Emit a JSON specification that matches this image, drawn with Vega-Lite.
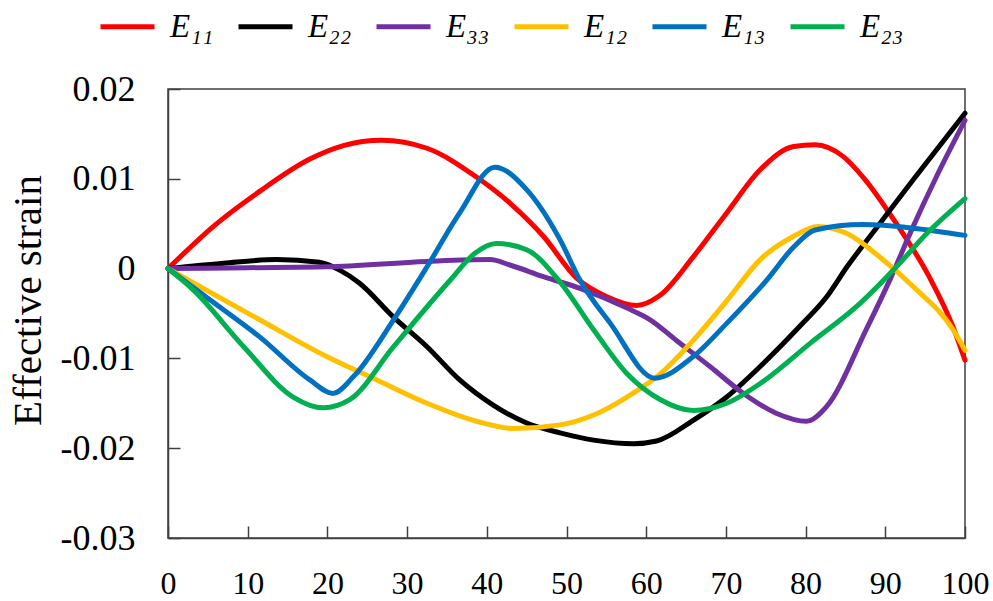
{
  "$schema": "https://vega.github.io/schema/vega-lite/v6.json",
  "width": 797,
  "height": 449,
  "autosize": {"type": "none"},
  "padding": {"left": 168, "top": 89, "right": 28, "bottom": 63},
  "background": "white",
  "config": {
    "view": {"stroke": "#404040", "strokeWidth": 1.5},
    "axis": {
      "labelFont": "Liberation Serif",
      "labelFontSize": 33,
      "labelColor": "#000000",
      "titleFont": "Liberation Serif",
      "titleFontSize": 41,
      "titleFontWeight": "normal",
      "titleColor": "#000000",
      "domainColor": "#404040",
      "domainWidth": 1.5,
      "tickColor": "#404040",
      "tickWidth": 1.5,
      "tickSize": -12,
      "grid": false
    }
  },
  "data": {
    "values": [
      {"s": "E₁₁", "t": 0, "v": 0},
      {"s": "E₁₁", "t": 2.6, "v": 0.0022},
      {"s": "E₁₁", "t": 5.3, "v": 0.0044},
      {"s": "E₁₁", "t": 11.5, "v": 0.0086},
      {"s": "E₁₁", "t": 17.8, "v": 0.0122},
      {"s": "E₁₁", "t": 22, "v": 0.0137},
      {"s": "E₁₁", "t": 26.8, "v": 0.0143},
      {"s": "E₁₁", "t": 32.5, "v": 0.0134},
      {"s": "E₁₁", "t": 38.7, "v": 0.0102},
      {"s": "E₁₁", "t": 42.9, "v": 0.0073},
      {"s": "E₁₁", "t": 47.1, "v": 0.0036},
      {"s": "E₁₁", "t": 51.2, "v": -0.001},
      {"s": "E₁₁", "t": 55, "v": -0.0031},
      {"s": "E₁₁", "t": 58.8, "v": -0.0041},
      {"s": "E₁₁", "t": 61.7, "v": -0.003},
      {"s": "E₁₁", "t": 65.9, "v": 0.0013},
      {"s": "E₁₁", "t": 70.1, "v": 0.0062},
      {"s": "E₁₁", "t": 74.3, "v": 0.011},
      {"s": "E₁₁", "t": 78.5, "v": 0.0136},
      {"s": "E₁₁", "t": 81.2, "v": 0.0138},
      {"s": "E₁₁", "t": 84.7, "v": 0.0125},
      {"s": "E₁₁", "t": 87.2, "v": 0.0102},
      {"s": "E₁₁", "t": 91.4, "v": 0.005},
      {"s": "E₁₁", "t": 95.5, "v": -0.0009},
      {"s": "E₁₁", "t": 98.5, "v": -0.0065},
      {"s": "E₁₁", "t": 100, "v": -0.0102},

      {"s": "E₂₂", "t": 0, "v": 0},
      {"s": "E₂₂", "t": 7, "v": 0.0006},
      {"s": "E₂₂", "t": 13.6, "v": 0.001},
      {"s": "E₂₂", "t": 19, "v": 0.0007},
      {"s": "E₂₂", "t": 21.6, "v": -0.0002},
      {"s": "E₂₂", "t": 24, "v": -0.0016},
      {"s": "E₂₂", "t": 28.3, "v": -0.0054},
      {"s": "E₂₂", "t": 32.5, "v": -0.0087},
      {"s": "E₂₂", "t": 36.6, "v": -0.0124},
      {"s": "E₂₂", "t": 40.8, "v": -0.0152},
      {"s": "E₂₂", "t": 45, "v": -0.0172},
      {"s": "E₂₂", "t": 49.2, "v": -0.0183},
      {"s": "E₂₂", "t": 53.4, "v": -0.0191},
      {"s": "E₂₂", "t": 58.4, "v": -0.0195},
      {"s": "E₂₂", "t": 61.3, "v": -0.0192},
      {"s": "E₂₂", "t": 65.9, "v": -0.0169},
      {"s": "E₂₂", "t": 70.1, "v": -0.0143},
      {"s": "E₂₂", "t": 74.3, "v": -0.0109},
      {"s": "E₂₂", "t": 79.3, "v": -0.0064},
      {"s": "E₂₂", "t": 82.6, "v": -0.0032},
      {"s": "E₂₂", "t": 85.2, "v": 0.0002},
      {"s": "E₂₂", "t": 89.3, "v": 0.005},
      {"s": "E₂₂", "t": 93.5, "v": 0.0099},
      {"s": "E₂₂", "t": 100, "v": 0.0173},

      {"s": "E₃₃", "t": 0, "v": 0},
      {"s": "E₃₃", "t": 10, "v": 0.0001},
      {"s": "E₃₃", "t": 19.9, "v": 0.0002},
      {"s": "E₃₃", "t": 32.5, "v": 0.0008},
      {"s": "E₃₃", "t": 40.4, "v": 0.001},
      {"s": "E₃₃", "t": 42.9, "v": 0.0004},
      {"s": "E₃₃", "t": 47.1, "v": -0.0009},
      {"s": "E₃₃", "t": 51.7, "v": -0.0022},
      {"s": "E₃₃", "t": 57.6, "v": -0.0044},
      {"s": "E₃₃", "t": 60.5, "v": -0.0057},
      {"s": "E₃₃", "t": 63.8, "v": -0.008},
      {"s": "E₃₃", "t": 68, "v": -0.0109},
      {"s": "E₃₃", "t": 72.2, "v": -0.0139},
      {"s": "E₃₃", "t": 76.3, "v": -0.0161},
      {"s": "E₃₃", "t": 80.1, "v": -0.017},
      {"s": "E₃₃", "t": 82.6, "v": -0.0154},
      {"s": "E₃₃", "t": 87.6, "v": -0.0068},
      {"s": "E₃₃", "t": 90.6, "v": -0.0012},
      {"s": "E₃₃", "t": 93.5, "v": 0.0047},
      {"s": "E₃₃", "t": 96.4, "v": 0.0102},
      {"s": "E₃₃", "t": 100, "v": 0.0165},

      {"s": "E₁₂", "t": 0, "v": 0},
      {"s": "E₁₂", "t": 3.2, "v": -0.0016},
      {"s": "E₁₂", "t": 11.5, "v": -0.0057},
      {"s": "E₁₂", "t": 19.9, "v": -0.0098},
      {"s": "E₁₂", "t": 26.2, "v": -0.0124},
      {"s": "E₁₂", "t": 32.5, "v": -0.015},
      {"s": "E₁₂", "t": 38.7, "v": -0.017},
      {"s": "E₁₂", "t": 43.3, "v": -0.0178},
      {"s": "E₁₂", "t": 49.2, "v": -0.0174},
      {"s": "E₁₂", "t": 53.4, "v": -0.0163},
      {"s": "E₁₂", "t": 57.6, "v": -0.0143},
      {"s": "E₁₂", "t": 61.8, "v": -0.0117},
      {"s": "E₁₂", "t": 65.9, "v": -0.008},
      {"s": "E₁₂", "t": 70.1, "v": -0.0036},
      {"s": "E₁₂", "t": 74.3, "v": 0.001},
      {"s": "E₁₂", "t": 78.5, "v": 0.0036},
      {"s": "E₁₂", "t": 81.5, "v": 0.0047},
      {"s": "E₁₂", "t": 85.2, "v": 0.0039},
      {"s": "E₁₂", "t": 89.3, "v": 0.0013},
      {"s": "E₁₂", "t": 93.5, "v": -0.002},
      {"s": "E₁₂", "t": 98.5, "v": -0.0068},
      {"s": "E₁₂", "t": 100, "v": -0.0091},

      {"s": "E₁₃", "t": 0, "v": 0},
      {"s": "E₁₃", "t": 5, "v": -0.0033},
      {"s": "E₁₃", "t": 11.5, "v": -0.0076},
      {"s": "E₁₃", "t": 17.8, "v": -0.0124},
      {"s": "E₁₃", "t": 20.7, "v": -0.0139},
      {"s": "E₁₃", "t": 23.3, "v": -0.012},
      {"s": "E₁₃", "t": 28.3, "v": -0.0057},
      {"s": "E₁₃", "t": 32.5, "v": 0.0002},
      {"s": "E₁₃", "t": 36.6, "v": 0.0062},
      {"s": "E₁₃", "t": 41, "v": 0.0113},
      {"s": "E₁₃", "t": 45, "v": 0.0088},
      {"s": "E₁₃", "t": 49.2, "v": 0.0032},
      {"s": "E₁₃", "t": 51.7, "v": -0.0013},
      {"s": "E₁₃", "t": 55.5, "v": -0.0061},
      {"s": "E₁₃", "t": 61.1, "v": -0.0122},
      {"s": "E₁₃", "t": 65.9, "v": -0.0098},
      {"s": "E₁₃", "t": 70.1, "v": -0.0061},
      {"s": "E₁₃", "t": 75.1, "v": -0.0013},
      {"s": "E₁₃", "t": 78.5, "v": 0.0024},
      {"s": "E₁₃", "t": 81.2, "v": 0.0043},
      {"s": "E₁₃", "t": 87.2, "v": 0.0049},
      {"s": "E₁₃", "t": 93.5, "v": 0.0045},
      {"s": "E₁₃", "t": 100, "v": 0.0037},

      {"s": "E₂₃", "t": 0, "v": 0},
      {"s": "E₂₃", "t": 3.2, "v": -0.0024},
      {"s": "E₂₃", "t": 9.5, "v": -0.0087},
      {"s": "E₂₃", "t": 15.7, "v": -0.0143},
      {"s": "E₂₃", "t": 19.5, "v": -0.0155},
      {"s": "E₂₃", "t": 22.8, "v": -0.0146},
      {"s": "E₂₃", "t": 28.3, "v": -0.0087},
      {"s": "E₂₃", "t": 35.4, "v": -0.0013},
      {"s": "E₂₃", "t": 38.5, "v": 0.0017},
      {"s": "E₂₃", "t": 41.2, "v": 0.0028},
      {"s": "E₂₃", "t": 45, "v": 0.0021},
      {"s": "E₂₃", "t": 49.2, "v": -0.0015},
      {"s": "E₂₃", "t": 53.4, "v": -0.0068},
      {"s": "E₂₃", "t": 57.6, "v": -0.0117},
      {"s": "E₂₃", "t": 61.8, "v": -0.0146},
      {"s": "E₂₃", "t": 65.9, "v": -0.0158},
      {"s": "E₂₃", "t": 70.1, "v": -0.015},
      {"s": "E₂₃", "t": 74.3, "v": -0.0128},
      {"s": "E₂₃", "t": 80.6, "v": -0.0083},
      {"s": "E₂₃", "t": 86.8, "v": -0.0039},
      {"s": "E₂₃", "t": 91.4, "v": 0.0002},
      {"s": "E₂₃", "t": 95.2, "v": 0.0039},
      {"s": "E₂₃", "t": 100, "v": 0.0078}
    ]
  },
  "mark": {"type": "line", "interpolate": "monotone", "strokeWidth": 5, "strokeCap": "round", "strokeJoin": "round"},
  "encoding": {
    "x": {
      "field": "t",
      "type": "quantitative",
      "scale": {"domain": [0, 100], "nice": false, "zero": false},
      "axis": {"title": null, "values": [0, 10, 20, 30, 40, 50, 60, 70, 80, 90, 100], "labelPadding": 42, "labelFlush": false, "labelFontSize": 32}
    },
    "y": {
      "field": "v",
      "type": "quantitative",
      "scale": {"domain": [-0.03, 0.02], "nice": false, "zero": false},
      "axis": {
        "title": "Effective strain",
        "values": [-0.03, -0.02, -0.01, 0, 0.01, 0.02],
        "labelExpr": "datum.value == 0 ? '0' : (datum.value < 0 ? '-' : '') + format(abs(datum.value), '.2f')",
        "labelPadding": 45,
        "labelFontSize": 36,
        "labelFlush": false,
        "titleX": -140,
        "titleY": 211,
        "titleAlign": "center",
        "titleBaseline": "middle",
        "titleAngle": -90
      }
    },
    "color": {
      "field": "s",
      "type": "nominal",
      "sort": ["E₁₁", "E₂₂", "E₃₃", "E₁₂", "E₁₃", "E₂₃"],
      "scale": {
        "domain": ["E₁₁", "E₂₂", "E₃₃", "E₁₂", "E₁₃", "E₂₃"],
        "range": ["#FF0000", "#000000", "#7030A0", "#FFC000", "#0070C0", "#00B050"]
      },
      "legend": {
        "title": null,
        "orient": "none",
        "legendX": -70,
        "legendY": -92,
        "direction": "horizontal",
        "columns": 6,
        "columnPadding": 14,
        "padding": 0,
        "symbolType": "stroke",
        "symbolSize": 2916,
        "symbolStrokeWidth": 5,
        "labelOffset": 13,
        "labelFont": "Liberation Serif",
        "labelFontStyle": "italic",
        "labelFontSize": 33,
        "labelColor": "#000000"
      }
    }
  }
}
